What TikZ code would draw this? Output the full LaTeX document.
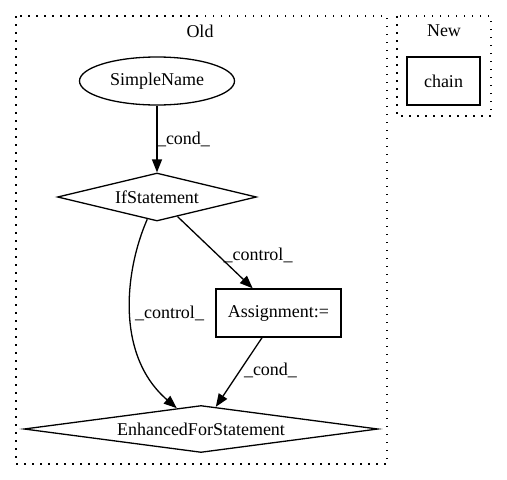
\documentclass[tikz,border=0pt]{standalone}
\usepackage{fontspec}
\setmainfont{Liberation Serif}
\usetikzlibrary{shapes.geometric,arrows.meta}
\begin{document}
\begin{tikzpicture}[x=1pt,y=-1pt,
  every node/.style={font=\fontsize{18}{20}\selectfont, inner sep=0pt},
  ln/.style={line width=1.3pt},
  cluster/.style={line width=1.3pt, dash pattern=on 1.5pt off 6.5pt},
  ell/.style={ellipse, draw, ln, minimum width=155pt, minimum height=48pt},
  dia/.style={diamond, draw, ln},
  box/.style={rectangle, draw, ln},
  arr/.style={ln, -{Triangle[length=13pt,width=10pt]}},
  lbl/.style={fill=none}]
\useasboundingbox (0,0) rectangle (507,480);
\draw[cluster] (16,16) rectangle (387,464);
\draw[cluster] (397,16) rectangle (491,116);
\node (old) at (200,31) {Old};
\node (new) at (444,31) {New};
\node[box, minimum width=73pt, minimum height=48pt] (chain) at (443.5,81) {chain};
\node[ell] (sn) at (157,81) {SimpleName};
\node[dia, aspect=4.15, minimum width=199pt, minimum height=48pt] (if) at (157,197) {IfStatement};
\node[box, minimum width=125pt, minimum height=48pt] (asg) at (278.5,313) {Assignment:=};
\node[dia, aspect=7.5, minimum width=354pt, minimum height=47pt] (efs) at (201,429) {EnhancedForStatement};
\draw[arr] (sn) -- (if);
\draw[arr] (if) -- (asg);
\draw[arr] (asg) -- (efs);
\draw[arr] (if) .. controls (125,270) and (115,355) .. (efs);
\node[lbl] (l1) at (183.5,139) {\_cond\_};
\node[lbl] (l2) at (258,255) {\_control\_};
\node[lbl] (l3) at (169.5,313) {\_control\_};
\node[lbl] (l4) at (270.5,370) {\_cond\_};
\end{tikzpicture}
\end{document}
